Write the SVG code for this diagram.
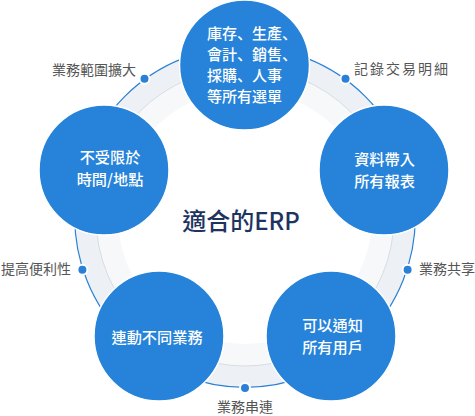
<svg xmlns="http://www.w3.org/2000/svg" width="475" height="416" viewBox="0 0 475 416">
<style>
.node{fill:#2683d9;stroke:#ffffff;stroke-width:1.5}
.nt{font-family:"Noto Sans CJK TC","Noto Sans CJK JP",sans-serif;font-size:15.2px;font-weight:500;fill:#ffffff;text-anchor:middle}
.lbl{font-family:"Noto Sans CJK TC",sans-serif;font-size:14px;fill:#555555}
.dot{fill:#2a80d6;stroke:#ffffff;stroke-width:2}
</style>
<rect width="475" height="416" fill="#ffffff"/>
<g id="ring">
<circle cx="245" cy="217" r="159.5" fill="none" stroke="#edf0f4" stroke-width="21"/>
<circle cx="245" cy="217" r="138" fill="none" stroke="#f6f8fa" stroke-width="22"/>
<circle cx="245" cy="217" r="149" fill="none" stroke="#d8dde3" stroke-width="1"/>
<circle cx="245" cy="217" r="170.3" fill="none" stroke="#2a80d6" stroke-width="1.2"/>
</g>
<g id="connectors">
<circle class="dot" cx="144.5" cy="78.7" r="5"/>
<circle class="dot" cx="345.5" cy="78.7" r="5"/>
<circle class="dot" cx="407.6" cy="269.8" r="5"/>
<circle class="dot" cx="245" cy="388" r="5"/>
<circle class="dot" cx="82.4" cy="269.8" r="5"/>
<text class="lbl" x="136" y="75" text-anchor="end">業務範圍擴大</text>
<text class="lbl" x="354" y="74" letter-spacing="2">記錄交易明細</text>
<text class="lbl" x="419" y="274">業務共享</text>
<text class="lbl" x="71" y="274" text-anchor="end">提高便利性</text>
<text class="lbl" x="245" y="412" text-anchor="middle">業務串連</text>
</g>
<g id="center">
<text x="241" y="230" text-anchor="middle" font-family="Noto Sans CJK TC, sans-serif" font-size="24" font-weight="500" fill="#1d3461">適合的ERP</text>
</g>
<g id="node-top">
<circle class="node" cx="244.5" cy="65" r="65"/>
<text class="nt" style="font-size:15px;text-anchor:start;font-family:'Noto Sans CJK JP','Noto Sans CJK TC',sans-serif" x="207"><tspan x="207" y="39">庫存、生產、</tspan><tspan x="207" y="60">會計、銷售、</tspan><tspan x="207" y="81">採購、人事</tspan><tspan x="207" y="102">等所有選單</tspan></text>
</g>
<g id="node-left">
<circle class="node" cx="104" cy="170" r="65"/>
<text class="nt" x="110"><tspan x="110" y="162.5">不受限於</tspan><tspan x="110" y="184.5">時間/地點</tspan></text>
</g>
<g id="node-right">
<circle class="node" cx="384" cy="170" r="65"/>
<text class="nt" x="384.5"><tspan x="384.5" y="164.5">資料帶入</tspan><tspan x="384.5" y="186.5">所有報表</tspan></text>
</g>
<g id="node-bottom-left">
<circle class="node" cx="159" cy="336" r="65"/>
<text class="nt" x="157" y="343">連動不同業務</text>
</g>
<g id="node-bottom-right">
<circle class="node" cx="331" cy="336" r="65"/>
<text class="nt" x="332.5"><tspan x="332.5" y="330.5">可以通知</tspan><tspan x="332.5" y="352.5">所有用戶</tspan></text>
</g>
</svg>
